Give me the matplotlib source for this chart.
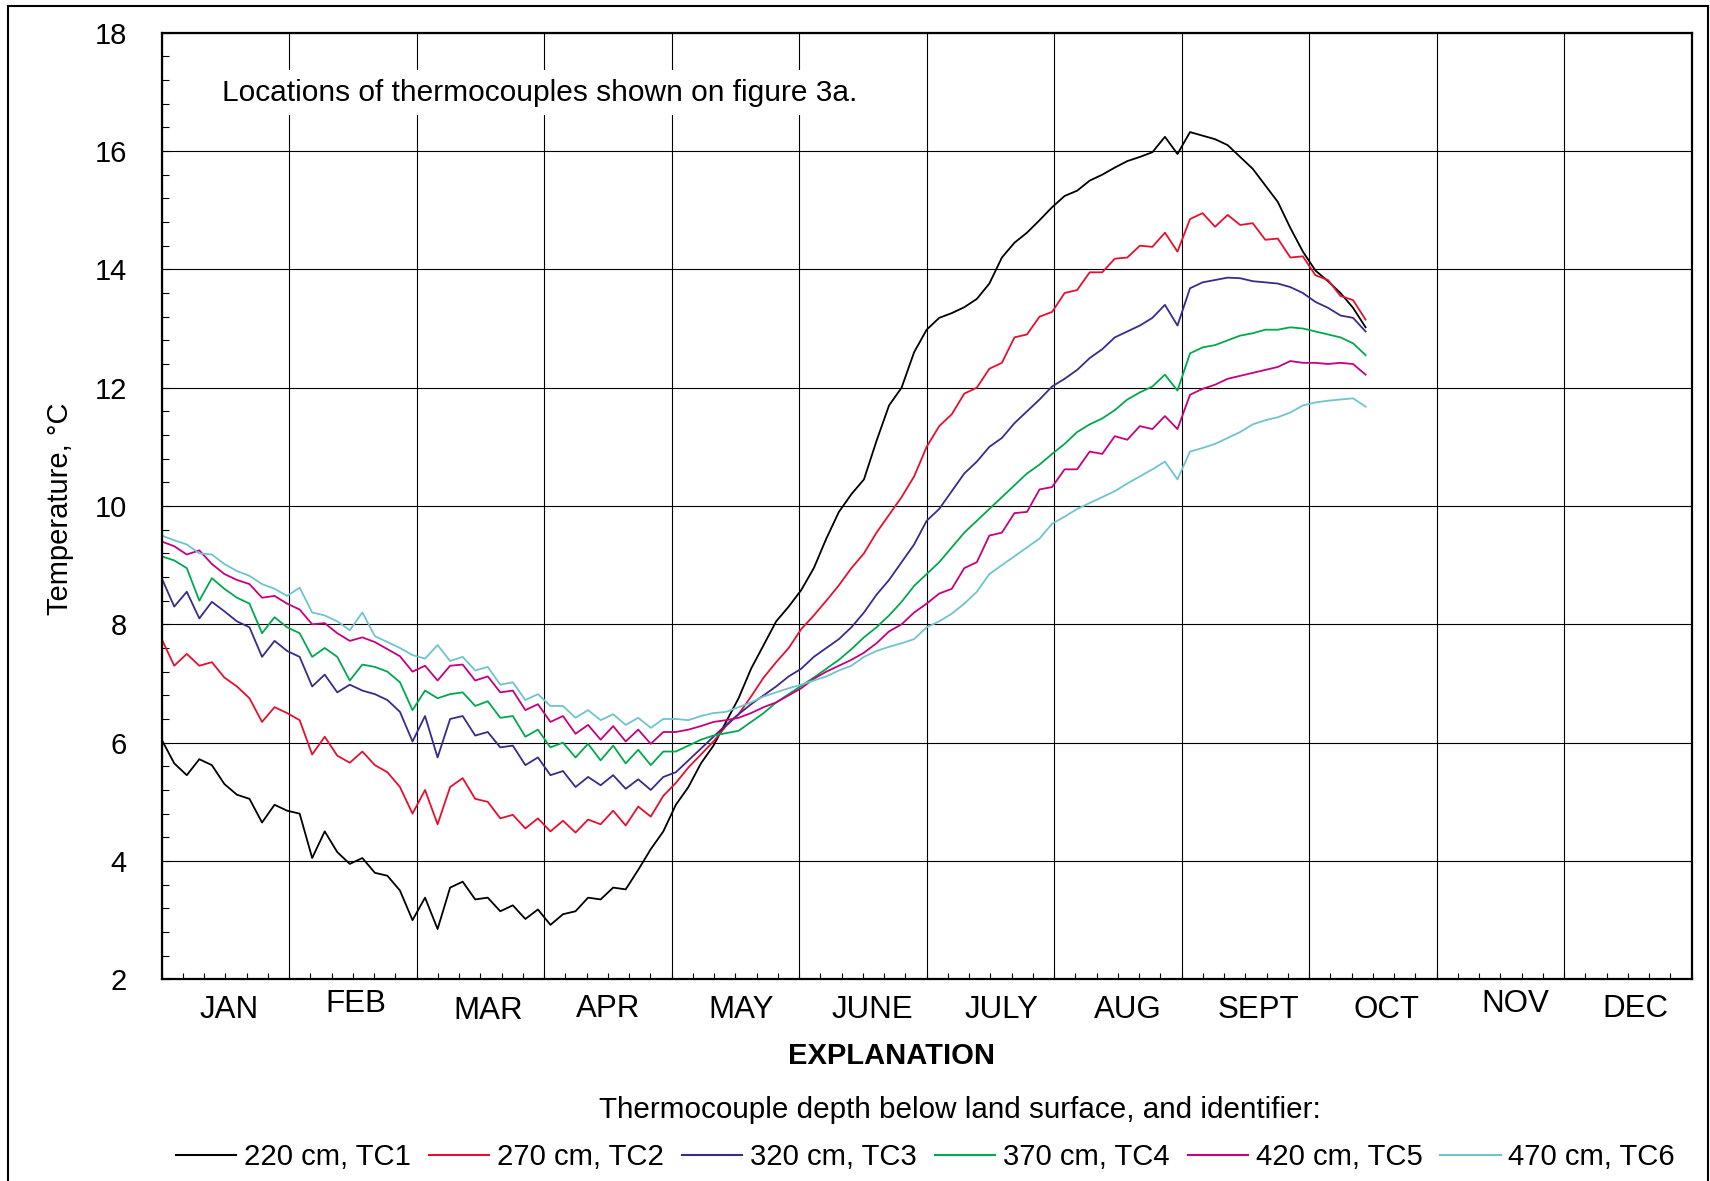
import matplotlib
matplotlib.use('Agg')
import matplotlib.pyplot as plt
from matplotlib.ticker import MultipleLocator
from matplotlib.patches import Rectangle
from matplotlib.lines import Line2D
import matplotlib.transforms as mtransforms

plt.rcParams['font.family'] = ['Liberation Sans', 'DejaVu Sans']

# ---- data (day of year, every 3 days) ----
days = list(range(0, 289, 3))

tc1 = [6.05, 5.65, 5.45, 5.72, 5.62, 5.3, 5.12, 5.05, 4.65, 4.95,
       4.85, 4.8, 4.05, 4.5, 4.15, 3.95, 4.05, 3.8, 3.75, 3.5,
       3.0, 3.38, 2.85, 3.55, 3.65, 3.35, 3.38, 3.15, 3.25, 3.02,
       3.18, 2.92, 3.1, 3.15, 3.38, 3.35, 3.55, 3.52, 3.85, 4.2,
       4.5, 4.95, 5.25, 5.65, 5.95, 6.35, 6.75, 7.25, 7.65, 8.05,
       8.3, 8.58, 8.95, 9.45, 9.9, 10.2, 10.45, 11.1, 11.7, 12.0,
       12.6, 12.98, 13.18, 13.26, 13.36, 13.5, 13.76, 14.2, 14.45, 14.62,
       14.83, 15.05, 15.24, 15.33, 15.5, 15.6, 15.72, 15.83, 15.9, 15.98,
       16.24, 15.95, 16.32, 16.26, 16.2, 16.1, 15.9, 15.7, 15.42, 15.14,
       14.7, 14.3, 13.98, 13.8, 13.6, 13.35, 13.02]

tc2 = [7.75, 7.3, 7.5, 7.3, 7.36, 7.1, 6.95, 6.75, 6.35, 6.6,
       6.5, 6.38, 5.8, 6.1, 5.78, 5.66, 5.85, 5.62, 5.5, 5.25,
       4.8, 5.2, 4.62, 5.25, 5.4, 5.05, 5.0, 4.72, 4.78, 4.55,
       4.72, 4.5, 4.68, 4.48, 4.7, 4.62, 4.85, 4.6, 4.92, 4.75,
       5.1, 5.32, 5.58, 5.8, 6.02, 6.28, 6.48, 6.78, 7.1, 7.36,
       7.6, 7.92, 8.15, 8.4, 8.66, 8.95, 9.2, 9.55, 9.85, 10.15,
       10.5, 11.0, 11.35, 11.55, 11.9, 12.0, 12.32, 12.42, 12.85, 12.9,
       13.2, 13.28, 13.6, 13.65, 13.95, 13.95, 14.18, 14.2, 14.4, 14.38,
       14.62, 14.3, 14.85, 14.95, 14.72, 14.92, 14.75, 14.78, 14.5, 14.52,
       14.2, 14.22, 13.9, 13.82, 13.55, 13.48, 13.15]

tc3 = [8.78, 8.3, 8.55, 8.1, 8.38, 8.22, 8.05, 7.95, 7.45, 7.72,
       7.55, 7.45, 6.95, 7.15, 6.85, 6.98, 6.88, 6.82, 6.72, 6.52,
       6.02, 6.45, 5.75, 6.4, 6.45, 6.12, 6.18, 5.92, 5.95, 5.62,
       5.75, 5.45, 5.52, 5.25, 5.42, 5.28, 5.45, 5.22, 5.38, 5.2,
       5.42, 5.5, 5.7, 5.9, 6.1, 6.3, 6.48, 6.65, 6.8, 6.95,
       7.12, 7.25, 7.45, 7.6, 7.75, 7.95, 8.2, 8.5, 8.75, 9.05,
       9.35, 9.75, 9.95, 10.25, 10.55, 10.75, 11.0, 11.15, 11.4, 11.6,
       11.8, 12.02, 12.15, 12.3, 12.5, 12.65, 12.85, 12.95, 13.05, 13.18,
       13.4, 13.05, 13.68, 13.78, 13.82, 13.86, 13.85, 13.8, 13.78, 13.76,
       13.7, 13.6, 13.45, 13.35, 13.22, 13.18, 12.95]

tc4 = [9.15, 9.08, 8.95, 8.4, 8.78, 8.6, 8.45, 8.35, 7.85, 8.12,
       7.95, 7.85, 7.45, 7.6, 7.45, 7.05, 7.32, 7.28, 7.2, 7.02,
       6.55, 6.88, 6.75, 6.82, 6.85, 6.62, 6.7, 6.42, 6.45, 6.1,
       6.22, 5.92, 6.0, 5.75, 5.98, 5.7, 5.95, 5.65, 5.88, 5.62,
       5.85, 5.85, 5.95, 6.05, 6.12, 6.16, 6.2, 6.35, 6.5, 6.68,
       6.82, 6.96, 7.1, 7.25, 7.4, 7.58, 7.78, 7.95, 8.15, 8.38,
       8.65, 8.85, 9.05, 9.3, 9.55, 9.75, 9.95, 10.15, 10.35, 10.55,
       10.7, 10.88, 11.05, 11.25, 11.38, 11.48, 11.62, 11.8, 11.92, 12.02,
       12.22, 11.95, 12.58, 12.68, 12.72, 12.8, 12.88, 12.92, 12.98, 12.98,
       13.02, 13.0, 12.95, 12.9, 12.85, 12.75, 12.55]

tc5 = [9.4, 9.32, 9.18, 9.25, 9.02, 8.85, 8.75, 8.68, 8.45, 8.48,
       8.35, 8.25, 8.0, 8.02, 7.85, 7.72, 7.78, 7.7, 7.58, 7.46,
       7.2, 7.3, 7.05, 7.3, 7.32, 7.05, 7.12, 6.85, 6.88, 6.55,
       6.65, 6.35, 6.45, 6.15, 6.3, 6.05, 6.28, 6.02, 6.22, 5.98,
       6.18, 6.18, 6.22, 6.28, 6.35, 6.38, 6.42, 6.5, 6.6, 6.68,
       6.8, 6.92, 7.08, 7.2, 7.3, 7.4, 7.52, 7.68, 7.88, 8.0,
       8.2, 8.35, 8.52, 8.6, 8.95, 9.05, 9.5, 9.55, 9.88, 9.9,
       10.28, 10.32, 10.62, 10.62, 10.92, 10.88, 11.18, 11.12, 11.35, 11.3,
       11.52, 11.3, 11.88, 11.98, 12.05, 12.15, 12.2, 12.25, 12.3, 12.35,
       12.45, 12.42, 12.42, 12.4, 12.42, 12.4, 12.22]

tc6 = [9.5, 9.42, 9.35, 9.2, 9.18, 9.02, 8.9, 8.82, 8.68, 8.6,
       8.48, 8.62, 8.2, 8.15, 8.05, 7.9, 8.2, 7.8, 7.7, 7.6,
       7.48, 7.42, 7.65, 7.38, 7.45, 7.22, 7.28, 6.98, 7.02, 6.72,
       6.82, 6.62, 6.62, 6.42, 6.55, 6.38, 6.48, 6.3, 6.42, 6.25,
       6.4, 6.4, 6.38, 6.45, 6.5, 6.52, 6.6, 6.68, 6.78, 6.85,
       6.92, 6.98, 7.05, 7.12, 7.22, 7.3, 7.45, 7.55, 7.62, 7.68,
       7.75, 7.95, 8.05, 8.18, 8.35, 8.55, 8.85, 9.0, 9.15, 9.3,
       9.45, 9.7, 9.82, 9.95, 10.05, 10.15, 10.25, 10.38, 10.5, 10.62,
       10.75, 10.45, 10.92, 10.98, 11.05, 11.15, 11.25, 11.38, 11.45, 11.5,
       11.58, 11.7, 11.75, 11.78, 11.8, 11.82, 11.68]

series = [tc1, tc2, tc3, tc4, tc5, tc6]
series_labels = ['220 cm, TC1', '270 cm, TC2', '320 cm, TC3',
                 '370 cm, TC4', '420 cm, TC5', '470 cm, TC6']
series_colors = ['#000000', '#E5102F', '#3B2A8C', '#00A84F', '#C6007E', '#6FC4CC']

months = ['JAN', 'FEB', 'MAR', 'APR', 'MAY', 'JUNE', 'JULY', 'AUG',
          'SEPT', 'OCT', 'NOV', 'DEC']
month_len = 30.5
month_label_x = [16.1, 46.4, 78.2, 106.9, 138.7, 170.0, 200.8, 231.1,
                 262.4, 292.9, 323.9, 352.6]
month_label_y = [-0.032, -0.026, -0.033, -0.031, -0.032, -0.032, -0.032,
                 -0.032, -0.032, -0.032, -0.026, -0.031]

# ---- figure ----
fig = plt.figure(figsize=(17.1, 11.81), dpi=100)
ax = fig.add_axes([0.09456, 0.17079, 0.8947, 0.80152])

for vals, lab, col in zip(series, series_labels, series_colors):
    ax.plot(days, vals, color=col, lw=1.3, label=lab)

ax.set_xlim(0, 12 * month_len)
ax.set_ylim(2, 18)
ax.xaxis.set_major_locator(MultipleLocator(month_len))
ax.xaxis.set_minor_locator(MultipleLocator(month_len / 6))
ax.yaxis.set_major_locator(MultipleLocator(2))
ax.yaxis.set_minor_locator(MultipleLocator(0.4))
ax.set_axisbelow(True)
ax.grid(which='major', color='black', lw=0.8)

ax.tick_params(axis='x', which='both', direction='in', length=4, width=0.8,
               labelbottom=False)
ax.tick_params(axis='y', which='major', direction='in', length=6, width=0.8,
               labelsize=21, pad=25)
ax.tick_params(axis='y', which='minor', direction='in', length=5, width=0.8)
for s in ax.spines.values():
    s.set_linewidth(1.6)

trans = mtransforms.blended_transform_factory(ax.transData, ax.transAxes)
for name, mx, my in zip(months, month_label_x, month_label_y):
    ax.text(mx, my, name, transform=trans, ha='center', va='center',
            fontsize=22.5)

ax.text(0.1301, 0.9215, 'Locations of thermocouples shown on figure 3a.',
        transform=fig.transFigure, ha='left', va='center', fontsize=21.5,
        bbox=dict(facecolor='white', edgecolor='none', pad=6))

fig.text(0.0351, 0.569, 'Temperature, \u00b0C', rotation=90, fontsize=21,
         ha='center', va='center')
fig.text(0.5213, 0.1062, 'EXPLANATION', fontsize=21, fontweight='bold',
         ha='center', va='center')
fig.text(0.5614, 0.0601, 'Thermocouple depth below land surface, and identifier:',
         fontsize=21.3, ha='center', va='center')

handles = [Line2D([], [], color=c, lw=1.5) for c in series_colors]
fig.legend(handles, series_labels, loc='center', bbox_to_anchor=(0.5412, 0.0203),
           ncol=6, frameon=False, fontsize=21.1, handlelength=2.05,
           handletextpad=0.27, columnspacing=0.62, borderpad=0, borderaxespad=0)

fig.add_artist(Rectangle((8 / 1710, -0.05), 1700 / 1710, 1.05 - 6 / 1181,
                         transform=fig.transFigure, fill=False,
                         edgecolor='black', lw=1.5))

fig.savefig('out.png', dpi=100)
